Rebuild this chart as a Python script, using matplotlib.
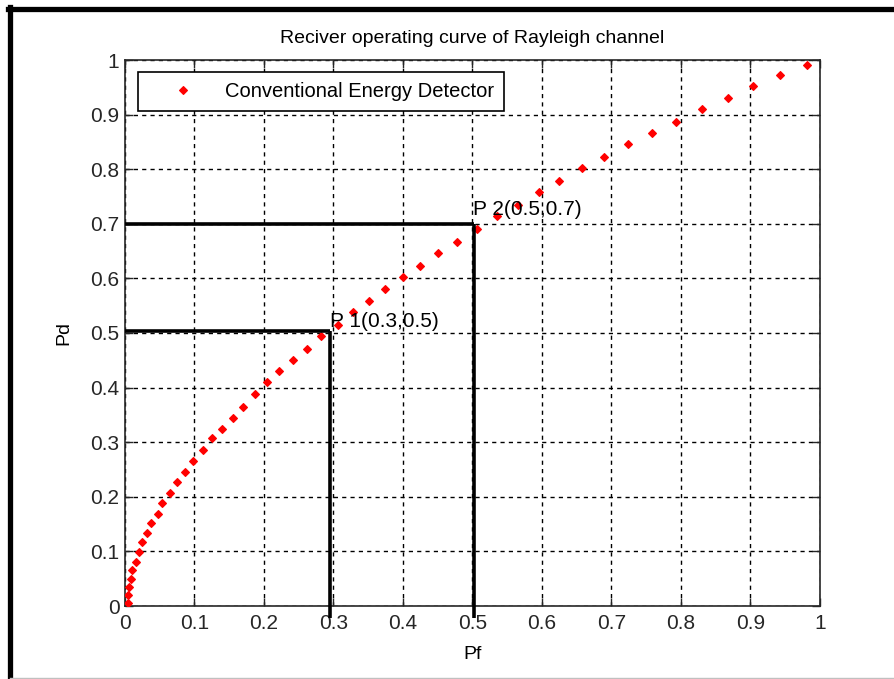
import matplotlib
matplotlib.use('Agg')
import matplotlib.pyplot as plt
from matplotlib.lines import Line2D

plt.rcParams['font.family'] = ['Liberation Sans', 'DejaVu Sans']

# values
pf = [0.0039, 0.0039, 0.0062, 0.0082, 0.0105, 0.0154, 0.0201, 0.0245, 0.0312, 0.0378,
      0.0471, 0.0537, 0.0652, 0.0748, 0.0863, 0.0978, 0.1118, 0.1256, 0.1396, 0.1554,
      0.1696, 0.1871, 0.2036, 0.2220, 0.2422, 0.2619, 0.2820, 0.3058, 0.3279, 0.3515,
      0.3745, 0.4004, 0.4249, 0.4499, 0.4777, 0.5060, 0.5348, 0.5650, 0.5953, 0.6249,
      0.6571, 0.6892, 0.7237, 0.7587, 0.7928, 0.8302, 0.8672, 0.9032, 0.9429, 0.9817]
pd_ = [0.0060, 0.0201, 0.0342, 0.0495, 0.0665, 0.0811, 0.0989, 0.1166, 0.1342, 0.1514,
       0.1690, 0.1892, 0.2070, 0.2277, 0.2454, 0.2661, 0.2863, 0.3071, 0.3247, 0.3449,
       0.3650, 0.3888, 0.4099, 0.4304, 0.4500, 0.4707, 0.4945, 0.5150, 0.5385, 0.5592,
       0.5800, 0.6026, 0.6233, 0.6465, 0.6672, 0.6899, 0.7143, 0.7350, 0.7582, 0.7780,
       0.8022, 0.8229, 0.8462, 0.8668, 0.8870, 0.9108, 0.9310, 0.9518, 0.9725, 0.9903]

# marked operating points (x of guide line, y of guide line, label)
p1 = (0.295, 0.504, 'P 1(0.3,0.5)')
p2 = (0.502, 0.6996, 'P 2(0.5,0.7)')

ticks = [0, 0.1, 0.2, 0.3, 0.4, 0.5, 0.6, 0.7, 0.8, 0.9, 1]
tick_labels = ['0', '0.1', '0.2', '0.3', '0.4', '0.5', '0.6', '0.7', '0.8', '0.9', '1']

fig = plt.figure(figsize=(8.95, 6.79), dpi=100)
ax = fig.add_axes([125/895, 1 - 606/679, 695/895, 546/679])

ax.plot(pf, pd_, linestyle='none', marker='D', markersize=4.5, color='red',
        markeredgewidth=0.8, label='Conventional Energy Detector', zorder=3)

for px, py, txt in [p1, p2]:
    ax.plot([0, px], [py, py], color='black', linewidth=2.6, solid_capstyle='butt', zorder=4)
    ax.plot([px, px], [-0.022, py], color='black', linewidth=2.6, solid_capstyle='butt',
            clip_on=False, zorder=4)

ax.text(0.295, 0.511, p1[2], fontsize=15, va='baseline', ha='left')
ax.text(0.501, 0.716, p2[2], fontsize=15, va='baseline', ha='left')

ax.set_xlim(0, 1)
ax.set_ylim(0, 1)
ax.set_xticks(ticks)
ax.set_xticklabels(tick_labels)
ax.set_yticks(ticks)
ax.set_yticklabels(tick_labels)
ax.tick_params(direction='in', length=6, width=1, top=True, right=True,
               labelsize=15, colors='#262626')
ax.tick_params(axis='x', pad=6)
ax.tick_params(axis='y', pad=4)
ax.grid(True, color='black', linestyle=(0, (3, 3)), linewidth=1)
for s in ax.spines.values():
    s.set_color('#262626')
    s.set_linewidth(1.2)

ax.set_title('Reciver operating curve of Rayleigh channel', fontsize=14, pad=12)
ax.set_xlabel('Pf', fontsize=14)
ax.set_ylabel('Pd', fontsize=14)
ax.xaxis.set_label_coords(0.5007, -0.0897)
ax.yaxis.set_label_coords(-0.0878, 0.5)
ax.xaxis.label.set_va('center')
ax.yaxis.label.set_va('center')

leg = ax.legend(loc='upper left', bbox_to_anchor=(0.0187, 0.978), borderaxespad=0,
                fontsize=14.5, handlelength=3.5, handletextpad=0.3, borderpad=0.5,
                fancybox=False, framealpha=1, edgecolor='black', numpoints=1)
leg.get_frame().set_linewidth(1.2)

# outer black frame of the figure window
fig.add_artist(Line2D([10.5/895, 10.5/895], [2/679, 1 - 7/679], color='black', linewidth=3.8,
                      transform=fig.transFigure))
fig.add_artist(Line2D([8/895, 1], [1 - 9/679, 1 - 9/679], color='black', linewidth=3.8,
                      transform=fig.transFigure))
fig.add_artist(Line2D([10.5/895, 1], [1.5/679, 1.5/679], color='#c0c0c0', linewidth=1,
                      transform=fig.transFigure))

plt.savefig('out.png', dpi=100)
